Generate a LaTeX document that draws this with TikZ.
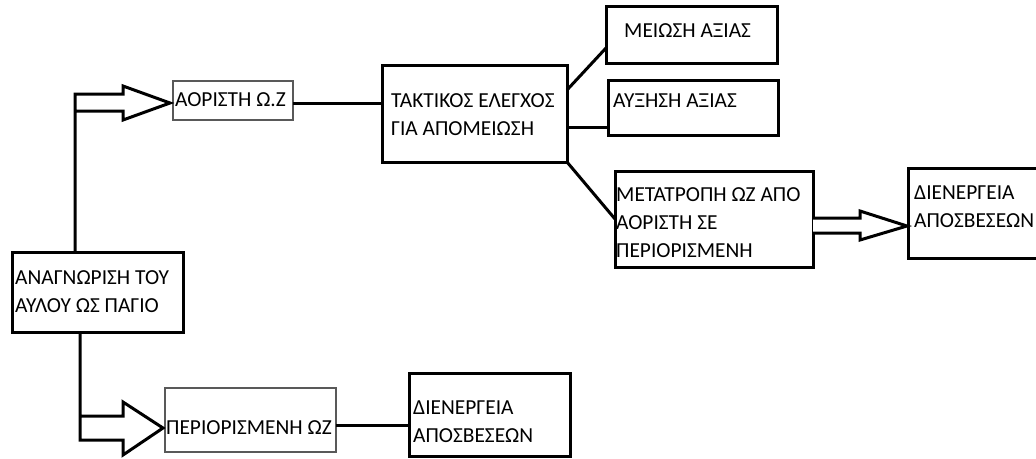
\documentclass[tikz,border=0pt]{standalone}
\usepackage{fontspec}
\setmainfont{Carlito}
\usetikzlibrary{calc}
\begin{document}
\begin{tikzpicture}[x=1pt,y=-1pt,
  thickbox/.style={draw=black,line width=3pt,outer sep=0pt,inner sep=0pt,anchor=north west},
  thinbox/.style={draw=black!65,line width=1.2pt,outer sep=0pt,inner sep=0pt,anchor=north west},
  txt/.style={inner sep=0pt,anchor=base west,align=left,font=\fontsize{21.4}{27.8}\selectfont},
  conn/.style={line width=3pt,line join=miter},
  hollow/.style={line width=3pt,line join=miter,fill=white}]
\useasboundingbox[fill=white] (0,0) rectangle (1036,458);
% boxes
\node[thickbox,minimum width=171,minimum height=80] (anag) at (12,252) {};
\node[thinbox,minimum width=120,minimum height=39] (aor) at (173,81) {};
\node[thickbox,minimum width=185,minimum height=97] (takt) at (382,65) {};
\node[thickbox,minimum width=171,minimum height=57] (meio) at (606,6) {};
\node[thickbox,minimum width=170,minimum height=55] (afx) at (608,80) {};
\node[thickbox,minimum width=198,minimum height=96] (meta) at (615,171) {};
\node[thickbox,minimum width=140,minimum height=90] (dienA) at (908,168) {};
\node[thinbox,minimum width=171,minimum height=64] (peri) at (165,388) {};
\node[thickbox,minimum width=161,minimum height=83] (dienB) at (409,373) {};
% texts (base anchor = baseline of the last line)
\node[txt] (anagT) at (15,312) {ΑΝΑΓΝΩΡΙΣΗ ΤΟΥ\\ΑΥΛΟΥ ΩΣ ΠΑΓΙΟ};
\node[txt] (aorT) at (175,106) {ΑΟΡΙΣΤΗ Ω.Ζ};
\node[txt] (taktT) at (391,135) {ΤΑΚΤΙΚΟΣ ΕΛΕΓΧΟΣ\\ΓΙΑ ΑΠΟΜΕΙΩΣΗ};
\node[txt] (meioT) at (624,37) {ΜΕΙΩΣΗ ΑΞΙΑΣ};
\node[txt] (afxT) at (613,107) {ΑΥΞΗΣΗ ΑΞΙΑΣ};
\node[txt] (metaT) at (616,257) {ΜΕΤΑΤΡΟΠΗ ΩΖ ΑΠΟ\\ΑΟΡΙΣΤΗ ΣΕ\\ΠΕΡΙΟΡΙΣΜΕΝΗ};
\node[txt] (dienAT) at (914,227) {ΔΙΕΝΕΡΓΕΙΑ\\ΑΠΟΣΒΕΣΕΩΝ};
\node[txt] (periT) at (166,434) {ΠΕΡΙΟΡΙΣΜΕΝΗ ΩΖ};
\node[txt] (dienBT) at (413,442) {ΔΙΕΝΕΡΓΕΙΑ\\ΑΠΟΣΒΕΣΕΩΝ};
% upper hollow arrow
\coordinate (upTip) at ($(aor.west)+(-3,2.5)$);
\draw[hollow] ($(anag.north west)+(63,0)$) -- (75,94) -- (123,94) -- (123,86) -- (upTip)
  -- (123,120) -- (123,111) -- (75,111);
% lower hollow arrow
\coordinate (loTip) at ($(peri.west)+(-2,8)$);
\draw[hollow] ($(anag.south west)+(68,0)$) -- (80,440) -- (123,440) -- (123,455) -- (loTip)
  -- (123,402) -- (123,416) -- (80,416);
% right hollow arrow
\coordinate (riTip) at ($(dienA.west)+(-1,13)$);
\draw[hollow] ($(meta.east)+(0,-1)$) -- (860,218) -- (860,211) -- (riTip) -- (860,240) -- (860,233) -- ($(meta.east)+(0,14)$);
% plain connectors
\draw[conn] ($(aor.east)+(0,2.5)$) -- ($(takt.west)+(0,-10.5)$);
\draw[conn] ($(takt.north east)+(0,25)$) -- ($(meio.south west)+(0,-15)$);
\draw[conn] ($(takt.south east)+(0,-35)$) -- ($(afx.south west)+(0,-8)$);
\draw[conn] (takt.south east) -- (meta.west);
\draw[conn] ($(peri.east)+(0,5)$) -- ($(dienB.west)+(0,10.5)$);
\end{tikzpicture}
\end{document}
